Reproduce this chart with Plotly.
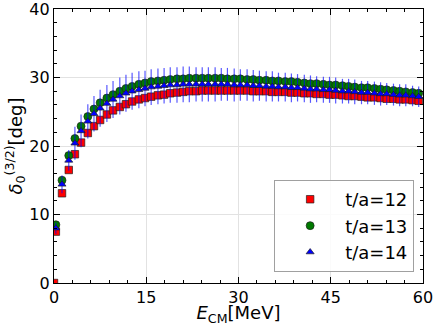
import plotly.graph_objects as go

# energies in MeV
energy = [0.3, 1.3, 2.4, 3.4, 4.4, 5.5, 6.5, 7.5, 8.6, 9.6,
          10.7, 11.7, 12.7, 13.8, 14.8, 15.8, 16.9, 17.9, 18.9, 20.0,
          21.0, 22.0, 23.1, 24.1, 25.1, 26.2, 27.2, 28.2, 29.3, 30.3,
          31.4, 32.4, 33.4, 34.5, 35.5, 36.5, 37.6, 38.6, 39.6, 40.7,
          41.7, 42.7, 43.8, 44.8, 45.8, 46.9, 47.9, 48.9, 50.0, 51.0,
          52.1, 53.1, 54.1, 55.2, 56.2, 57.2, 58.3, 59.3]

phase_t12 = [7.5, 13.1, 16.5, 18.8, 20.5, 21.9, 22.9, 23.8, 24.6, 25.2,
             25.7, 26.1, 26.5, 26.8, 27.0, 27.2, 27.4, 27.5, 27.7, 27.8,
             27.9, 28.0, 28.0, 28.1, 28.1, 28.1, 28.1, 28.1, 28.1, 28.1,
             28.1, 28.0, 28.0, 28.0, 27.9, 27.9, 27.9, 27.8, 27.8, 27.7,
             27.7, 27.6, 27.6, 27.5, 27.5, 27.4, 27.3, 27.3, 27.2, 27.1,
             27.1, 27.0, 26.9, 26.9, 26.8, 26.8, 26.7, 26.6]
err_t12 = [0.3] * 58

phase_t13 = [8.5, 15.0, 18.6, 21.1, 22.9, 24.3, 25.4, 26.3, 27.0, 27.5,
             28.0, 28.4, 28.7, 29.0, 29.2, 29.4, 29.5, 29.6, 29.7, 29.8,
             29.8, 29.9, 29.9, 29.9, 29.9, 29.9, 29.9, 29.8, 29.8, 29.8,
             29.7, 29.7, 29.6, 29.6, 29.5, 29.5, 29.4, 29.4, 29.3, 29.2,
             29.1, 29.1, 29.0, 28.9, 28.9, 28.8, 28.7, 28.6, 28.5, 28.5,
             28.4, 28.3, 28.2, 28.1, 28.0, 27.9, 27.8, 27.7]
err_t13 = [0.5] * 58

phase_t14 = [8.0, 14.4, 17.9, 20.4, 22.2, 23.6, 24.7, 25.5, 26.2, 26.8,
             27.3, 27.7, 28.0, 28.2, 28.4, 28.6, 28.7, 28.8, 28.9, 28.9,
             29.0, 29.0, 29.0, 29.0, 29.0, 29.0, 29.0, 29.0, 28.9, 28.9,
             28.9, 28.8, 28.8, 28.7, 28.7, 28.6, 28.6, 28.5, 28.5, 28.4,
             28.3, 28.3, 28.2, 28.2, 28.1, 28.0, 28.0, 27.9, 27.8, 27.8,
             27.7, 27.6, 27.6, 27.5, 27.4, 27.4, 27.3, 27.2]
err_t14 = [0.8, 1.3, 1.5, 2.4, 2.4, 2.5, 2.6, 2.7, 2.7, 2.7,
           2.7, 2.7, 2.7, 2.7, 2.6, 2.6, 2.6, 2.6, 2.6, 2.6,
           2.6, 2.6, 2.5, 2.5, 2.5, 2.5, 2.4, 2.4, 2.4, 2.3,
           2.3, 2.3, 2.2, 2.2, 2.2, 2.1, 2.1, 2.1, 2.0, 2.0,
           2.0, 1.9, 1.9, 1.9, 1.9, 1.8, 1.8, 1.8, 1.7, 1.7,
           1.7, 1.7, 1.6, 1.6, 1.6, 1.6, 1.5, 1.5]

series = [
    ("t/a=12", [0.0] + energy, [0.0] + phase_t12, [0.0] + err_t12, "#ff0000", "square", 7.5),
    ("t/a=13", energy, phase_t13, err_t13, "#007a00", "circle", 8),
    ("t/a=14", energy, phase_t14, err_t14, "#0000ff", "triangle-up", 7),
]
bar_colors = {"t/a=12": "#ff0000", "t/a=13": "#008000", "t/a=14": "rgba(0,0,255,0.65)"}

fig = go.Figure()
for name, x, y, e, color, symbol, size in series:
    fig.add_trace(go.Scatter(
        x=x, y=y, name=name, mode="markers",
        error_y=dict(type="data", array=e, visible=True, width=0,
                     thickness=1.2, color=bar_colors[name]),
        marker=dict(color=color, symbol=symbol, size=size,
                    line=dict(color="rgba(30,30,30,0.85)", width=0.8)),
    ))

axis_common = dict(
    showline=True, linecolor="black", linewidth=1.2, mirror="ticks",
    ticks="inside", ticklen=6, tickwidth=1, tickcolor="black",
    showgrid=True, gridcolor="#e2e2e2", gridwidth=1, zeroline=False,
    tickfont=dict(size=16, color="black"), automargin=False,
    ticklabeloverflow="allow",
)

fig.update_xaxes(range=[0, 60], dtick=15, tick0=0,
                 minor=dict(dtick=3, ticks="inside", ticklen=3, tickcolor="black", showgrid=False),
                 title=dict(text="<i>E</i><sub>CM</sub>[MeV]", font=dict(size=18, color="black"), standoff=4),
                 **axis_common)
fig.update_yaxes(range=[0, 40], dtick=10, tick0=0,
                 minor=dict(dtick=2, ticks="inside", ticklen=3, tickcolor="black", showgrid=False),
                 title=dict(text="<i>δ</i><sub>0</sub><sup>(3/2)</sup>[deg]", font=dict(size=18, color="black"), standoff=2),
                 **axis_common)

fig.update_layout(
    width=436, height=326,
    margin=dict(l=54, r=13, t=9, b=43),
    plot_bgcolor="white", paper_bgcolor="white",
    font=dict(family="DejaVu Sans", color="black"),
    showlegend=True,
    legend=dict(x=0.976, y=0.04, xanchor="right", yanchor="bottom",
                bgcolor="rgba(255,255,255,0.85)", bordercolor="#a0a0a0", borderwidth=1,
                font=dict(size=18), itemwidth=60, tracegroupgap=0),
)

fig.write_html("out.html", config={"displayModeBar": False},
               post_script="document.body.style.margin='0';")
